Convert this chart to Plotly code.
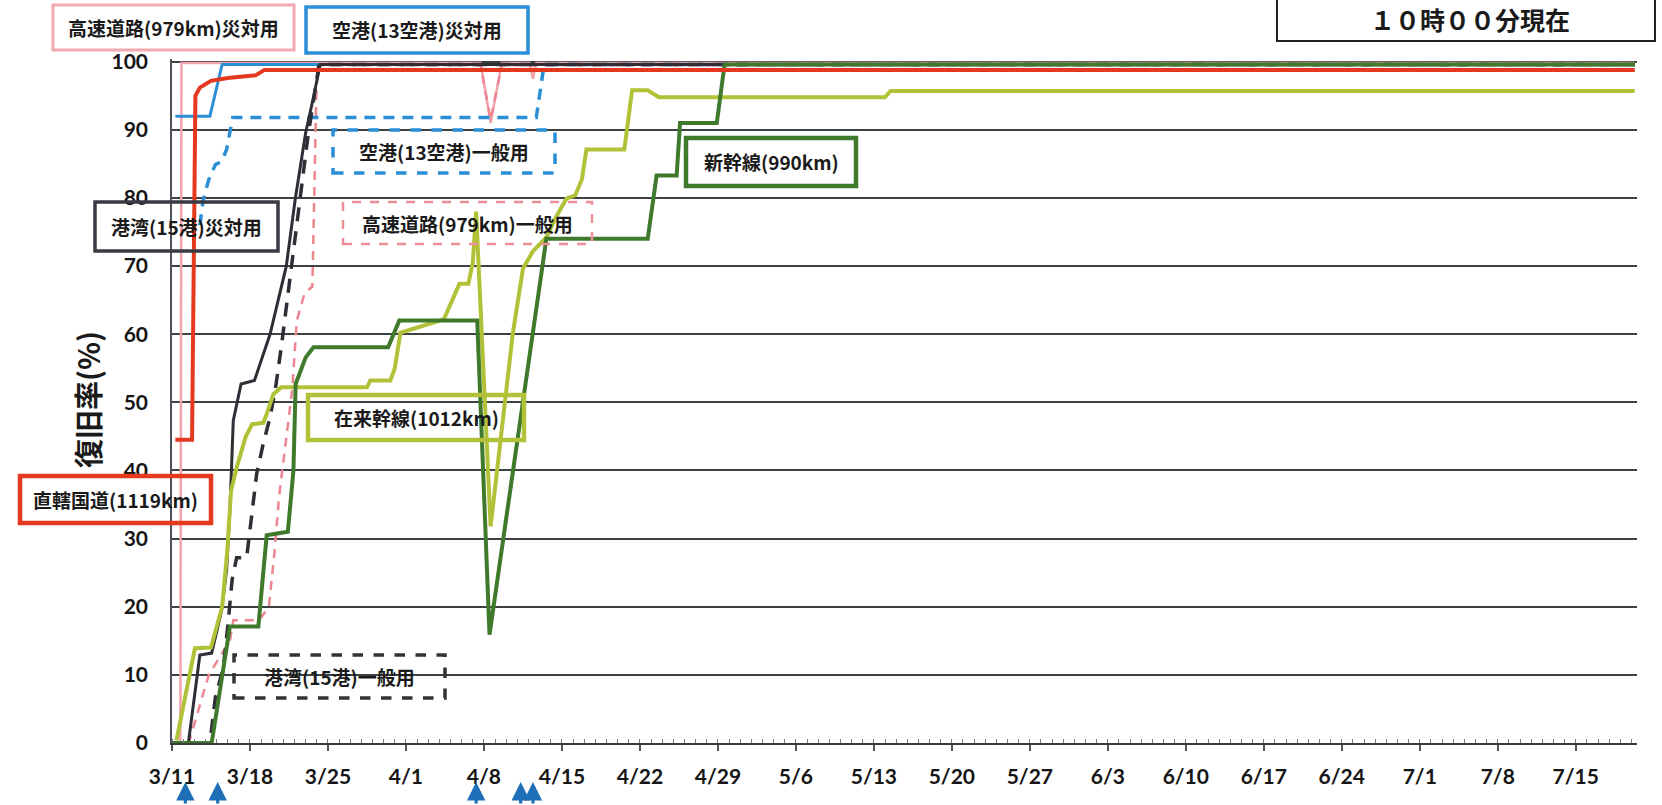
import pandas as pd
import plotly.graph_objects as go

BASE = pd.Timestamp("2011-03-11 00:00")

# ---- data: day offsets since 3/11 00:00 and restoration rate (%) ----
kokudo_day = [0.3, 1.8, 2.1, 2.5, 3.5, 5.0, 7.5, 8.3, 131.3]
kokudo_val = [44.5, 44.5, 95.0, 96.2, 97.2, 97.6, 98.0, 98.8, 98.8]

kosoku_saitai_day = [0.0, 0.75, 0.85, 27.7, 28.6, 29.6, 32.1, 32.4, 32.7, 131.3]
kosoku_saitai_val = [0.0, 0.0, 99.8, 99.8, 91.0, 99.8, 99.8, 97.5, 99.8, 99.8]

kosoku_ippan_day = [0.0, 1.5, 3.3, 5.2, 5.5, 7.8, 8.7, 9.2, 9.6, 10.2, 10.8, 11.2, 11.9, 12.6,
                    12.95, 13.1, 27.7, 28.6, 29.6, 131.3]
kosoku_ippan_val = [0.0, 0.0, 10.0, 15.0, 18.0, 18.0, 20.0, 28.0, 36.0, 44.0, 52.0, 62.0, 66.0, 67.0,
                    95.0, 99.5, 99.5, 91.5, 99.5, 99.5]

kuko_saitai_day = [0.3, 3.4, 4.5, 131.3]
kuko_saitai_val = [92.0, 92.0, 99.6, 99.6]

kuko_ippan_day = [2.5, 2.8, 3.3, 3.9, 4.46, 4.9, 5.45, 32.7, 33.4, 131.3]
kuko_ippan_val = [76.0, 79.7, 82.7, 84.9, 85.4, 87.1, 91.8, 91.8, 99.6, 99.6]

kowan_saitai_day = [0.0, 1.47, 2.5, 3.56, 4.46, 4.9, 5.2, 5.36, 5.5, 6.2, 7.4, 8.8, 10.26, 11.06,
                    12.0, 12.66, 13.3, 131.3]
kowan_saitai_val = [0.0, 0.0, 12.9, 13.2, 19.5, 25.4, 34.2, 40.1, 47.3, 52.7, 53.2, 60.0, 70.0, 79.8,
                    89.6, 94.5, 99.6, 99.6]

kowan_ippan_day = [0.0, 3.4, 3.9, 4.6, 5.0, 5.4, 5.8, 6.7, 7.6, 8.2, 8.8, 9.3, 9.8, 10.5, 11.3,
                   12.2, 13.2, 131.3]
kowan_ippan_val = [0.0, 0.0, 6.8, 11.0, 17.0, 24.0, 27.2, 27.2, 39.5, 44.0, 47.8, 52.2, 58.0, 67.0, 78.0,
                   89.0, 99.6, 99.6]

zairai_day = [0.4, 2.06, 3.5, 4.5, 4.95, 5.3, 5.8, 6.6, 7.2, 8.2, 8.5, 9.1, 9.8, 17.5, 17.8, 19.6,
              20.0, 20.5, 24.4, 25.8, 26.6, 27.0, 27.3, 28.6, 30.6, 31.5, 32.4, 33.6, 34.4, 35.4,
              36.2, 36.8, 37.2, 40.6, 41.3, 42.7, 43.7, 64.0, 64.5, 131.3]
zairai_val = [0.4, 13.9, 14.0, 20.0, 28.0, 37.0, 40.4, 44.9, 46.8, 47.0, 48.3, 51.2, 52.2, 52.2, 53.2, 53.2,
              55.0, 60.2, 62.2, 67.4, 67.4, 70.5, 78.0, 31.8, 60.2, 69.6, 72.2, 74.2, 77.0, 79.9,
              80.4, 82.8, 87.1, 87.1, 95.8, 95.8, 94.8, 94.8, 95.7, 95.7]

shinkansen_day = [0.0, 3.56, 5.2, 7.75, 8.5, 10.4, 10.9, 11.1, 12.0, 12.7, 19.4, 20.4, 27.4, 28.5,
                  33.6, 42.7, 43.5, 45.3, 45.6, 48.9, 49.6, 131.3]
shinkansen_val = [0.0, 0.0, 17.1, 17.1, 30.5, 31.0, 40.0, 52.7, 56.6, 58.1, 58.1, 62.0, 62.0, 15.9,
                  74.0, 74.0, 83.3, 83.3, 91.0, 91.0, 99.6, 99.6]

# aftershock markers (days after 3/11)
arrow_days = [1.2, 4.1, 27.3, 31.3, 32.4]

y_ticks = [0, 10, 20, 30, 40, 50, 60, 70, 80, 90, 100]
x_range_days = [0.0, 131.5]
week_days = 7


def to_dates(days):
    return list(BASE + pd.to_timedelta(days, unit="D"))


# ---- layout geometry (pixels) ----
W, H = 1662, 805
PL, PR, PT, PB = 172, 1637, 59, 743


def pxx(x):
    return (x - PL) / (PR - PL)


def pxy(y):
    return (PB - y) / (PB - PT)


fig = go.Figure()

YG = "#b2c238"
series = [
    (kosoku_saitai_day, kosoku_saitai_val, "#f3a3ab", 2.5, "solid"),
    (kosoku_ippan_day, kosoku_ippan_val, "#ec8690", 2.5, "9px,7px"),
    (kuko_ippan_day, kuko_ippan_val, "#2b8fd5", 3.5, "11px,8px"),
    (kuko_saitai_day, kuko_saitai_val, "#2b8fd5", 3.0, "solid"),
    (kowan_ippan_day, kowan_ippan_val, "#2e2e36", 3.5, "14px,10px"),
    (kowan_saitai_day, kowan_saitai_val, "#2e2e36", 3.0, "solid"),
    (zairai_day, zairai_val, YG, 4.0, "solid"),
    (shinkansen_day, shinkansen_val, "#3f7a2c", 4.0, "solid"),
    (kokudo_day, kokudo_val, "#e5391f", 4.0, "solid"),
]
for d, v, c, w, dash in series:
    fig.add_trace(go.Scatter(x=to_dates(d), y=v, mode="lines",
                             line=dict(color=c, width=w, dash=dash),
                             showlegend=False, hoverinfo="skip"))

# ---- labelled boxes: text, (x0, y0, x1, y1) in px, colour, width, dash ----
labels = [
    ("高速道路(979km)災対用", (53, 5, 294, 50), "#f2a9b1", 3, "solid"),
    ("空港(13空港)災対用", (306, 7, 528, 53), "#2a8fd6", 3.5, "solid"),
    ("空港(13空港)一般用", (333, 130, 555, 173), "#2a8fd6", 3.5, "dash"),
    ("新幹線(990km)", (686, 138, 856, 186), "#3f7a2c", 4.5, "solid"),
    ("高速道路(979km)一般用", (343, 202, 592, 244), "#ec8f98", 2.5, "dash"),
    ("港湾(15港)災対用", (95, 202, 278, 251), "#3a3a44", 3.5, "solid"),
    ("在来幹線(1012km)", (308, 395, 524, 440), YG, 4.5, "solid"),
    ("直轄国道(1119km)", (20, 476, 211, 523), "#e5391f", 4.5, "solid"),
    ("港湾(15港)一般用", (234, 655, 445, 698), "#333333", 3.5, "dash"),
]
for text, (x0, y0, x1, y1), col, lw, dash in labels:
    fig.add_shape(type="rect", xref="paper", yref="paper",
                  x0=pxx(x0), x1=pxx(x1), y0=pxy(y1), y1=pxy(y0),
                  line=dict(color=col, width=lw, dash=dash), fillcolor="rgba(0,0,0,0)",
                  layer="above")
    fig.add_annotation(xref="paper", yref="paper", x=pxx((x0 + x1) / 2), y=pxy((y0 + y1) / 2),
                       text=text, showarrow=False, xanchor="center", yanchor="middle",
                       font=dict(family="Noto Sans CJK JP", size=19, color="#1a1a1a", weight="bold"))

# time box
fig.add_shape(type="rect", xref="paper", yref="paper",
              x0=pxx(1277), x1=pxx(1655), y0=pxy(41), y1=pxy(-5),
              line=dict(color="#222222", width=2), fillcolor="rgba(0,0,0,0)")
fig.add_annotation(xref="paper", yref="paper", x=pxx(1470), y=pxy(19),
                   text="１０時００分現在", showarrow=False, xanchor="center", yanchor="middle",
                   font=dict(family="Noto Sans CJK JP", size=25, color="#1a1a1a", weight="bold"))

# y axis title
fig.add_annotation(xref="paper", yref="paper", x=pxx(87), y=pxy(400), text="復旧率(%)",
                   textangle=-90, showarrow=False, xanchor="center", yanchor="middle",
                   font=dict(family="Noto Sans CJK JP", size=29, color="#1a1a1a", weight="bold"))

# aftershock arrows (upward arrows below the date axis)
for d in arrow_days:
    fig.add_annotation(xref="x", yref="paper", x=to_dates([d])[0], y=pxy(782), text="",
                       showarrow=True, arrowhead=2, arrowsize=1.15, arrowwidth=3.2,
                       arrowcolor="#1f6fb8", ax=0, ay=32, standoff=0)

fig.update_layout(
    width=W, height=H,
    margin=dict(l=PL, r=W - PR, t=PT, b=H - PB, pad=0),
    paper_bgcolor="white", plot_bgcolor="white",
    showlegend=False,
    xaxis=dict(
        type="date",
        range=to_dates(x_range_days),
        tick0=BASE, dtick=week_days * 86400000, tickformat="%-m/%-d",
        ticks="outside", ticklen=6, tickwidth=1.5, tickcolor="#555555",
        showgrid=False, zeroline=False,
        showline=True, linecolor="#3a3a3a", linewidth=2,
        tickfont=dict(family="Lato", size=21, color="#151515", weight="bold"),
        ticklabelstandoff=8,
        minor=dict(tick0=BASE, dtick=86400000, ticks="inside", ticklen=4,
                   tickcolor="#777777", tickwidth=1, showgrid=False),
    ),
    yaxis=dict(
        range=[0, 100.4], tickvals=y_ticks, ticktext=[str(t) for t in y_ticks],
        showgrid=True, gridcolor="#3c4141", gridwidth=1.5,
        zeroline=False, showline=True, linecolor="#4a4f5a", linewidth=1.5,
        ticks="", ticklabelstandoff=18,
        tickfont=dict(family="Lato", size=21, color="#151515", weight="bold"),
    ),
)

fig.write_html("out.html")
